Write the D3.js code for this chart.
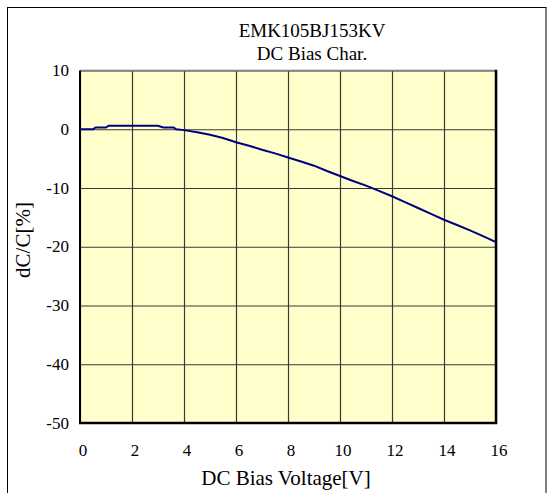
<!DOCTYPE html>
<html>
<head>
<meta charset="utf-8">
<script src="https://cdn.jsdelivr.net/npm/d3@7"></script>
<style>
  html, body { margin: 0; padding: 0; background: #fff; }
  svg { display: block; }
  text { font-family: "Liberation Serif", "Times New Roman", serif; fill: #000; }
</style>
</head>
<body>
<svg id="chart" width="550" height="493"></svg>
<script>
// ---- data ----
const titleLines = ["EMK105BJ153KV", "DC Bias Char."];
const xLabel = "DC Bias Voltage[V]";
const yLabel = "dC/C[%]";
const xTicks = [0, 2, 4, 6, 8, 10, 12, 14, 16];
const yTicks = [10, 0, -10, -20, -30, -40, -50];
const voltage = [0, 0.5, 0.6, 1.0, 1.1, 3.0, 3.2, 3.6, 3.7, 4.0, 4.5, 5.0, 5.5, 6.0, 6.5, 7.0, 7.5, 8.0, 8.5, 9.0, 9.5, 10.0, 10.5, 11.0, 11.5, 12.0, 12.5, 13.0, 13.5, 14.0, 14.5, 15.0, 15.5, 16.0];
const dCC = [0, 0, 0.3, 0.3, 0.6, 0.6, 0.3, 0.3, 0, -0.15, -0.5, -0.95, -1.5, -2.2, -2.8, -3.5, -4.1, -4.8, -5.5, -6.2, -7.1, -7.95, -8.8, -9.6, -10.5, -11.4, -12.4, -13.4, -14.4, -15.4, -16.3, -17.2, -18.2, -19.2];

// ---- layout ----
const svg = d3.select("#chart");
const plot = { left: 80, right: 496, top: 70.5, bottom: 423 };

const x = d3.scaleLinear().domain([0, 16]).range([plot.left, plot.right]);
const y = d3.scaleLinear().domain([-50, 10]).range([plot.bottom, plot.top]);

// outer frame (open at the bottom of the image)
svg.append("rect")
  .attr("x", 7.5).attr("y", 7.5)
  .attr("width", 538.5).attr("height", 600)
  .attr("fill", "none").attr("stroke", "#000").attr("stroke-width", 1);

// plot background
svg.append("rect")
  .attr("x", plot.left).attr("y", plot.top)
  .attr("width", plot.right - plot.left).attr("height", plot.bottom - plot.top)
  .attr("fill", "#FFFFCC");

// grid
const gx = svg.append("g")
  .attr("transform", `translate(0,${plot.bottom})`)
  .call(d3.axisBottom(x).tickValues(xTicks).tickSize(-(plot.bottom - plot.top)).tickFormat(""));
const gy = svg.append("g")
  .attr("transform", `translate(${plot.left},0)`)
  .call(d3.axisLeft(y).tickValues(yTicks).tickSize(-(plot.right - plot.left)).tickFormat(""));
[gx, gy].forEach(g => {
  g.select(".domain").remove();
  g.selectAll(".tick line").attr("stroke", "#3a3a30").attr("stroke-width", 1.2);
});

// plot border
svg.append("line").attr("x1", plot.left).attr("x2", plot.right).attr("y1", plot.top).attr("y2", plot.top)
  .attr("stroke", "#808080").attr("stroke-width", 1.5);
svg.append("line").attr("x1", plot.left).attr("x2", plot.left).attr("y1", plot.top).attr("y2", plot.bottom)
  .attr("stroke", "#000").attr("stroke-width", 2);
svg.append("line").attr("x1", plot.right).attr("x2", plot.right).attr("y1", plot.top - 0.75).attr("y2", plot.bottom + 1)
  .attr("stroke", "#000").attr("stroke-width", 2.5);
svg.append("line").attr("x1", plot.left - 1).attr("x2", plot.right + 1).attr("y1", plot.bottom).attr("y2", plot.bottom)
  .attr("stroke", "#000").attr("stroke-width", 2.5);

// curve
const line = d3.line().x((d, i) => x(voltage[i])).y(d => y(d));
svg.append("path")
  .datum(dCC)
  .attr("d", line)
  .attr("fill", "none")
  .attr("stroke", "#000080")
  .attr("stroke-width", 2);

// tick labels
svg.append("g").selectAll("text").data(xTicks).join("text")
  .attr("x", d => x(d) + 3).attr("y", 450)
  .attr("text-anchor", "middle").attr("dominant-baseline", "central")
  .attr("font-size", 17).text(d => d);
svg.append("g").selectAll("text").data(yTicks).join("text")
  .attr("x", 69).attr("y", d => y(d))
  .attr("text-anchor", "end").attr("dominant-baseline", "central")
  .attr("font-size", 17).text(d => d);

// titles
svg.append("text").attr("x", 312).attr("y", 30)
  .attr("text-anchor", "middle").attr("dominant-baseline", "central")
  .attr("font-size", 19).text(titleLines[0]);
svg.append("text").attr("x", 312).attr("y", 53)
  .attr("text-anchor", "middle").attr("dominant-baseline", "central")
  .attr("font-size", 19).text(titleLines[1]);

svg.append("text").attr("x", 286).attr("y", 478)
  .attr("text-anchor", "middle").attr("dominant-baseline", "central")
  .attr("font-size", 21).text(xLabel);
svg.append("text")
  .attr("transform", `translate(23,240) rotate(-90)`)
  .attr("text-anchor", "middle").attr("dominant-baseline", "central")
  .attr("font-size", 21).text(yLabel);
</script>
</body>
</html>
